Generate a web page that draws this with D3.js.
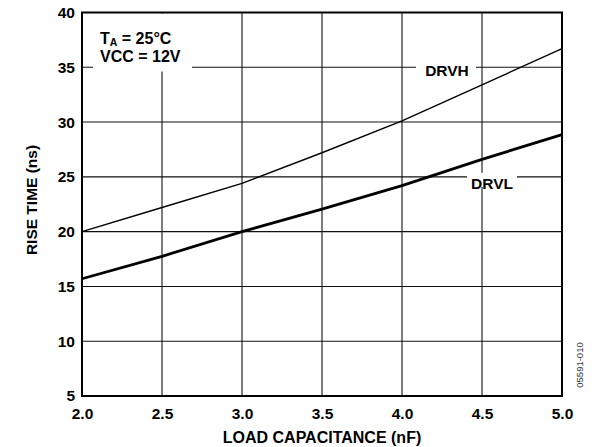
<!DOCTYPE html>
<html>
<head>
<meta charset="utf-8">
<script src="https://cdn.jsdelivr.net/npm/d3@7"></script>
<style>
  html, body { margin: 0; padding: 0; background: #fff; }
  svg { display: block; }
  text { font-family: "Liberation Sans", Arial, sans-serif; }
</style>
</head>
<body>
<svg id="chart" width="594" height="447"></svg>
<script>
// ---- data ----
const capacitance = [2.0, 2.5, 3.0, 3.5, 4.0, 4.5, 5.0];
const drvh = [20.0, 22.2, 24.4, 27.2, 30.1, 33.4, 36.7];
const drvl = [15.7, 17.75, 20.0, 22.05, 24.2, 26.6, 28.85];
const xTicks = [2.0, 2.5, 3.0, 3.5, 4.0, 4.5, 5.0];
const yTicks = [5, 10, 15, 20, 25, 30, 35, 40];
const xTitle = "LOAD CAPACITANCE (nF)";
const yTitle = "RISE TIME (ns)";
const seriesLabels = ["DRVH", "DRVL"];
const figureId = "05591-010";

(function () {
// ---- layout ----
const svg = d3.select("#chart");
const pL = 82, pR = 562, pT = 12.5, pB = 396;
const x = d3.scaleLinear().domain([2, 5]).range([pL, pR]);
const y = d3.scaleLinear().domain([5, 40]).range([pB, pT]);

const fontSize = 15.5;

// grid
const g = svg.append("g");
g.selectAll("line.vg").data(xTicks).enter().append("line")
  .attr("x1", d => x(d)).attr("x2", d => x(d))
  .attr("y1", pT).attr("y2", pB)
  .attr("stroke", "#111").attr("stroke-width", 1.1);
g.selectAll("line.hg").data(yTicks).enter().append("line")
  .attr("x1", pL).attr("x2", pR)
  .attr("y1", d => y(d)).attr("y2", d => y(d))
  .attr("stroke", "#111").attr("stroke-width", 1.1);

// white label boxes that mask the grid
svg.append("rect").attr("x", 93).attr("y", pT + 1).attr("width", 99).attr("height", 58).attr("fill", "#fff");
svg.append("rect").attr("x", 416).attr("y", y(35) - 6).attr("width", 60).attr("height", 14).attr("fill", "#fff");
svg.append("rect").attr("x", 467).attr("y", y(25) - 4).attr("width", 50).attr("height", 14).attr("fill", "#fff");

// frame
svg.append("rect").attr("x", pL).attr("y", pT).attr("width", pR - pL).attr("height", pB - pT)
  .attr("fill", "none").attr("stroke", "#000").attr("stroke-width", 2);

// axes
const xAxis = svg.append("g").attr("transform", `translate(0,${pB})`)
  .call(d3.axisBottom(x).tickValues(xTicks).tickFormat(d3.format(".1f")).tickSize(0).tickPadding(12));
const yAxis = svg.append("g").attr("transform", `translate(${pL},0)`)
  .call(d3.axisLeft(y).tickValues(yTicks).tickFormat(d3.format("d")).tickSize(0).tickPadding(7));
[xAxis, yAxis].forEach(a => {
  a.select(".domain").remove();
  a.selectAll("text").attr("font-family", "'Liberation Sans', Arial, sans-serif")
    .attr("font-size", fontSize).attr("font-weight", "bold").attr("fill", "#000");
});

// lines
const line = d3.line().x((d, i) => x(capacitance[i])).y(d => y(d));
svg.append("path").datum(drvh).attr("d", line).attr("fill", "none")
  .attr("stroke", "#000").attr("stroke-width", 1.4);
svg.append("path").datum(drvl).attr("d", line).attr("fill", "none")
  .attr("stroke", "#000").attr("stroke-width", 2.8);

// series labels
svg.append("text").attr("x", 447).attr("y", 76).attr("text-anchor", "middle")
  .attr("font-size", fontSize).attr("font-weight", "bold").text(seriesLabels[0]);
svg.append("text").attr("x", 492).attr("y", 189).attr("text-anchor", "middle")
  .attr("font-size", fontSize).attr("font-weight", "bold").text(seriesLabels[1]);

// conditions annotation
const ann = svg.append("text").attr("x", 100).attr("y", 44.3)
  .attr("font-size", 16).attr("font-weight", "bold");
ann.append("tspan").text("T");
ann.append("tspan").attr("font-size", 10.5).attr("dy", 2).text("A");
ann.append("tspan").attr("dy", -2).text(" = 25°C");
svg.append("text").attr("x", 100).attr("y", 62)
  .attr("font-size", 16).attr("font-weight", "bold").text("VCC = 12V");

// axis titles
svg.append("text").attr("x", 322).attr("y", 442.5).attr("text-anchor", "middle")
  .attr("font-size", 16).attr("font-weight", "bold").text(xTitle);
svg.append("text").attr("transform", `translate(37,200) rotate(-90)`).attr("text-anchor", "middle")
  .attr("font-size", fontSize).attr("font-weight", "bold").text(yTitle);

// figure id
svg.append("text").attr("transform", `translate(583,365) rotate(-90)`).attr("text-anchor", "middle")
  .attr("font-size", 9.5).attr("fill", "#333").text(figureId);
})();
</script>
</body>
</html>
